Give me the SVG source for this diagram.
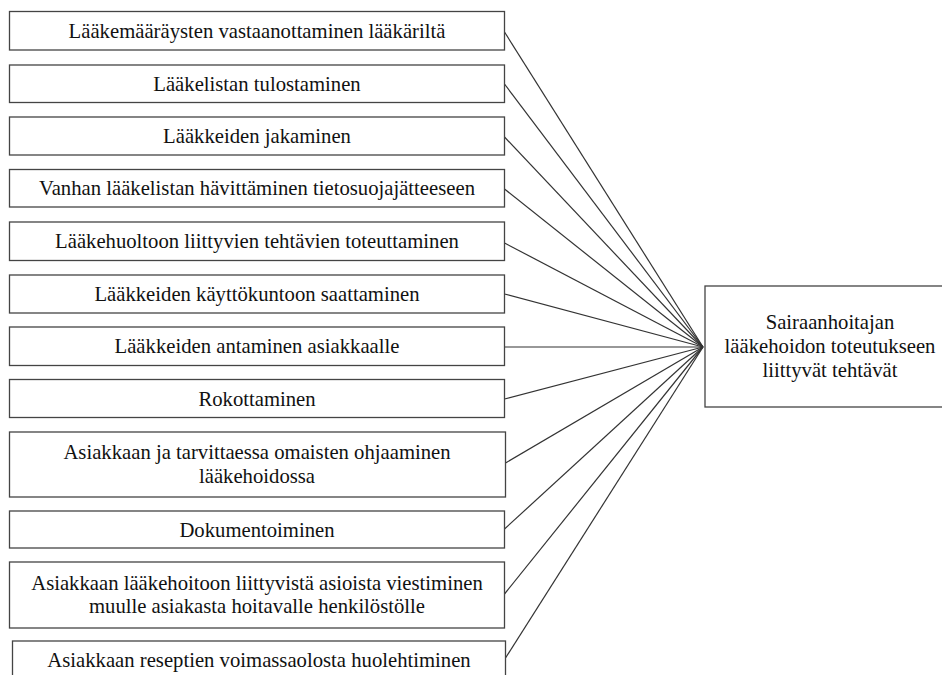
<svg xmlns="http://www.w3.org/2000/svg" width="942" height="675" viewBox="0 0 942 675">
<style>
.box{fill:#fff;stroke:#444;stroke-width:1.3}
.t{font-family:'Liberation Serif','Times New Roman',serif;font-size:20.7px;fill:#111;text-anchor:middle}
.c line{stroke:#333;stroke-width:1.2}
</style>
<rect width="942" height="675" fill="#fff"/>
<g class="c" id="connectors">
<line x1="504.5" y1="32" x2="703" y2="347"/>
<line x1="504.5" y1="84" x2="703" y2="347"/>
<line x1="504.5" y1="137" x2="703" y2="347"/>
<line x1="504.5" y1="189" x2="703" y2="347"/>
<line x1="504.5" y1="243" x2="703" y2="347"/>
<line x1="504.5" y1="294" x2="703" y2="347"/>
<line x1="504.5" y1="347" x2="703" y2="347"/>
<line x1="504.5" y1="399" x2="703" y2="347"/>
<line x1="505.5" y1="463" x2="703" y2="347"/>
<line x1="504.5" y1="529" x2="703" y2="347"/>
<line x1="504.5" y1="594" x2="703" y2="347"/>
<line x1="505.5" y1="658" x2="703" y2="347"/>
</g>
<g id="n1"><rect class="box" x="9.5" y="11.5" width="495" height="38.5"/><text class="t" x="257" y="37.5">Lääkemääräysten vastaanottaminen lääkäriltä</text></g>
<g id="n2"><rect class="box" x="9.5" y="65" width="495" height="37.5"/><text class="t" x="257" y="90.5">Lääkelistan tulostaminen</text></g>
<g id="n3"><rect class="box" x="9.5" y="117" width="495" height="38"/><text class="t" x="257" y="143">Lääkkeiden jakaminen</text></g>
<g id="n4"><rect class="box" x="9.5" y="169.5" width="495" height="37.5"/><text class="t" x="257" y="195">Vanhan lääkelistan hävittäminen tietosuojajätteeseen</text></g>
<g id="n5"><rect class="box" x="9.5" y="222" width="495" height="38.5"/><text class="t" x="257" y="248">Lääkehuoltoon liittyvien tehtävien toteuttaminen</text></g>
<g id="n6"><rect class="box" x="9.5" y="275" width="495" height="38"/><text class="t" x="257" y="301">Lääkkeiden käyttökuntoon saattaminen</text></g>
<g id="n7"><rect class="box" x="9.5" y="327" width="495" height="38.5"/><text class="t" x="257" y="353">Lääkkeiden antaminen asiakkaalle</text></g>
<g id="n8"><rect class="box" x="9.5" y="379.5" width="495" height="38"/><text class="t" x="257" y="405.5">Rokottaminen</text></g>
<g id="n9"><rect class="box" x="9.5" y="432" width="496" height="65"/><text class="t" x="257" y="459">Asiakkaan ja tarvittaessa omaisten ohjaaminen</text><text class="t" x="257" y="483">lääkehoidossa</text></g>
<g id="n10"><rect class="box" x="9.5" y="511" width="495" height="37"/><text class="t" x="257" y="536.5">Dokumentoiminen</text></g>
<g id="n11"><rect class="box" x="9.5" y="562" width="495" height="66"/><text class="t" x="257" y="589.5">Asiakkaan lääkehoitoon liittyvistä asioista viestiminen</text><text class="t" x="257" y="613">muulle asiakasta hoitavalle henkilöstölle</text></g>
<g id="n12"><rect class="box" x="12.5" y="641" width="493" height="40"/><text class="t" x="259" y="667">Asiakkaan reseptien voimassaolosta huolehtiminen</text></g>
<g id="hub"><rect class="box" x="705" y="286" width="250" height="121"/><text class="t" x="830" y="329">Sairaanhoitajan</text><text class="t" x="830" y="353">lääkehoidon toteutukseen</text><text class="t" x="830" y="376.5">liittyvät tehtävät</text></g>
</svg>
